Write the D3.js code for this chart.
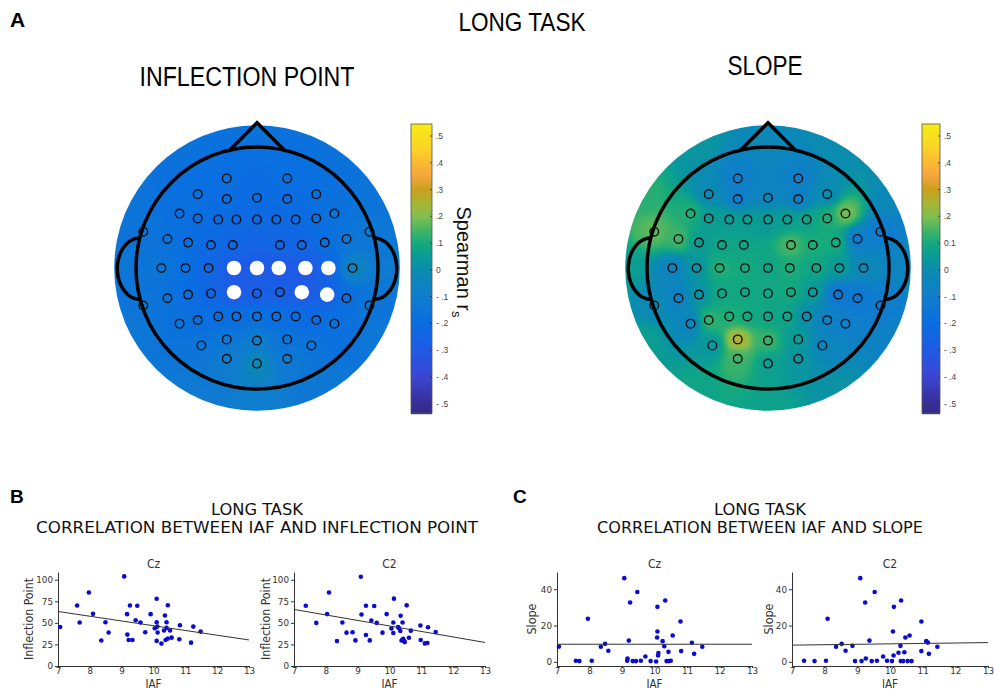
<!DOCTYPE html>
<html>
<head>
<meta charset="utf-8">
<script src="https://cdn.jsdelivr.net/npm/d3@7"></script>
<style>
  body { margin: 0; background: #fff; }
  text { font-family: "Liberation Sans", Arial, sans-serif; }
  .narrow { font-family: "Liberation Sans Narrow", "Arial Narrow", "Liberation Sans", sans-serif; }
  .dv { font-family: "DejaVu Sans Condensed", "DejaVu Sans", sans-serif; }
  .axis text { font-family: "DejaVu Sans", sans-serif; font-size: 8.8px; fill: #333; }
  .axis path, .axis line { stroke: #333; }
</style>
</head>
<body>
<script>
// ---------- topography data ----------
// channel layout in head-radius units (x to the right, y towards the back)
const chanNames = ['Fp1','Fp2','AF7','AF3','AFz','AF4','AF8','F7','F5','F3','F1','Fz','F2','F4','F6','F8',
  'FT9','FT10','FT7','FC5','FC3','FC1','FC2','FC4','FC6','FT8',
  'T7','C5','C3','C1','Cz','C2','C4','C6','T8',
  'TP7','CP5','CP3','CP1','CPz','CP2','CP4','CP6','TP8','TP9','TP10',
  'P7','P5','P3','P1','Pz','P2','P4','P6','P8','PO7','PO3','POz','PO4','PO8','O1','Oz','O2']
const chanX = [-0.25,0.25,-0.49,-0.25,0,0.25,0.49,-0.64,-0.49,-0.32,-0.17,0,0.16,0.32,0.49,0.64,
  -0.94,0.93,-0.74,-0.57,-0.38,-0.20,0.19,0.37,0.56,0.74,
  -0.79,-0.59,-0.40,-0.19,0,0.18,0.40,0.59,0.79,
  -0.74,-0.57,-0.38,-0.19,0,0.19,0.37,0.58,0.74,-0.94,0.93,
  -0.64,-0.49,-0.32,-0.17,0,0.16,0.32,0.49,0.64,-0.46,-0.25,0,0.25,0.45,-0.25,0,0.25]
const chanY = [-0.74,-0.74,-0.61,-0.57,-0.58,-0.57,-0.61,-0.45,-0.41,-0.40,-0.40,-0.40,-0.40,-0.40,-0.41,-0.45,
  -0.30,-0.30,-0.24,-0.21,-0.19,-0.19,-0.19,-0.19,-0.21,-0.24,
  0,0,0,0,0,0,0,0,0,
  0.25,0.22,0.21,0.20,0.21,0.20,0.20,0.22,0.25,0.31,0.31,
  0.46,0.43,0.40,0.40,0.40,0.40,0.40,0.43,0.46,0.64,0.59,0.60,0.59,0.64,0.75,0.79,0.75]

// Spearman r per channel: IAF vs inflection point
const rhoInflection = [-0.19,-0.19,-0.19,-0.21,-0.21,-0.21,-0.19,-0.19,-0.20,-0.21,-0.22,-0.23,-0.22,-0.22,-0.20,-0.17,
  -0.16,-0.14,-0.17,-0.20,-0.22,-0.24,-0.24,-0.24,-0.20,-0.15,
  -0.15,-0.19,-0.24,-0.31,-0.30,-0.31,-0.31,-0.26,-0.05,
  -0.17,-0.20,-0.24,-0.31,-0.28,-0.28,-0.31,-0.28,-0.19,-0.15,-0.15,
  -0.17,-0.19,-0.20,-0.20,-0.18,-0.20,-0.22,-0.21,-0.18,-0.16,-0.14,-0.10,-0.16,-0.16,-0.10,-0.03,-0.12]
// Spearman r per channel: IAF vs slope
const rhoSlope = [-0.09,-0.09,-0.02,-0.11,-0.06,-0.09,-0.02,0.12,0.05,0.06,0.06,0.05,0.06,0.08,0.11,0.20,
  0.17,-0.11,0.15,0.05,0.08,0.08,0.16,0.11,0.11,-0.11,
  -0.06,0.02,0.12,0.10,0.08,0.11,0.09,0.05,-0.03,
  -0.08,0.02,0.09,0.09,0.09,0.10,0.05,-0.15,-0.14,-0.02,-0.11,
  -0.06,0.14,0.11,0.09,0.08,0.08,0.00,-0.08,-0.09,0.03,0.27,0.14,0.05,-0.05,0.14,0.06,0.03]
// values on the rim of the map, clockwise from the nose
const rimInflection = [-0.17,-0.17,-0.16,-0.12,-0.14,-0.13,-0.10,-0.12,-0.14,-0.14,-0.16,-0.17]
const rimSlope = [-0.03,0.00,-0.03,-0.05,-0.07,0.02,0.07,0.08,0.06,0.06,0.12,0.03]
// significant channels
const sigInflection = ['C1','Cz','C2','C4','C6','CP1','CP4','CP6']
const sigSlope = []

const cbTicks = [0.5,0.4,0.3,0.2,0.1,0,-0.1,-0.2,-0.3,-0.4,-0.5]
const cbLabelsLeft = ['.5','.4','.3','.2','.1','0','- .1','- .2','- .3','- .4','- .5']
const cbLabelsRight = ['.5','.4','.3','.2','0.1','0','- .1','- .2','- .3','- .4','- .5']

// ---------- scatter data ----------
const iafIpCz = [7.07,7.60,7.68,7.97,8.10,8.36,8.49,8.59,9.08,9.17,9.18,9.22,9.26,9.34,9.44,9.49,9.59,9.74,9.91,10.04,
  10.10,10.10,10.12,10.13,10.10,10.25,10.33,10.36,10.38,10.41,10.41,10.45,10.45,10.52,10.57,10.83,10.81,11.18,11.25,11.48]
const ipCz = [45.3,70.2,50.4,85.3,60.5,29.5,50.8,38.8,103.9,60.1,36.4,30.2,70.2,30.2,53.1,69.8,50.4,39.1,60.1,43.8,
  50.8,77.9,45.7,38.8,29.1,26.0,41.1,58.5,30.2,50.8,44.2,70.5,31.8,41.1,32.9,47.3,31.0,27.1,45.7,39.9]
const iafIpC2 = [7.37,7.70,8.04,8.10,8.52,8.35,8.65,8.84,8.93,9.10,9.12,9.26,9.26,9.38,9.43,9.52,9.60,9.78,9.91,10.06,
  10.12,10.14,10.12,10.27,10.30,10.34,10.35,10.41,10.38,10.43,10.46,10.48,10.54,10.61,10.67,10.97,10.98,11.11,11.19,11.21,11.45]
const ipC2 = [69.9,50.0,60.2,85.2,50.4,28.9,38.7,39.1,29.7,103.5,59.8,35.9,69.9,29.7,52.7,69.5,50.0,38.7,60.2,43.4,
  50.4,78.1,38.3,45.3,43.8,40.6,58.2,50.4,29.7,31.6,28.9,27.7,70.3,32.8,41.0,46.9,30.1,26.2,26.6,44.9,39.5]
const iafSlCz = [7.06,7.58,7.69,7.95,8.07,8.35,8.48,8.58,9.07,9.16,9.17,9.21,9.25,9.33,9.43,9.47,9.58,9.72,9.88,10.05,
  10.08,10.09,10.09,10.12,10.11,10.25,10.30,10.33,10.37,10.44,10.50,10.43,10.56,10.80,10.82,11.15,11.22,11.47]
const slCz = [8.4,0.6,0.4,23.7,0.6,8.3,9.9,6.1,46.1,0.6,1.8,11.7,32.7,0.4,0.4,38.5,0.6,2.9,0.4,0.2,
  13.4,16.7,30.3,4.8,3.5,11.4,8.6,33.8,0.4,0.4,0.6,5.5,14.5,22.2,5.9,10.5,4.4,8.3]
const iafSlC2 = [7.37,7.69,8.04,8.09,8.35,8.52,8.64,8.85,8.93,9.09,9.13,9.26,9.24,9.37,9.44,9.53,9.60,9.79,9.91,10.06,
  10.09,10.12,10.11,10.26,10.32,10.34,10.33,10.40,10.44,10.47,10.54,10.60,10.66,10.96,10.96,11.11,11.16,11.19,11.45]
const slC2 = [0.6,0.4,0.6,23.7,8.3,9.9,6.1,8.8,0.4,46.1,0.4,1.8,32.7,11.7,0.4,38.5,0.6,2.9,0.6,0.4,
  16.7,30.3,3.5,5.0,8.8,33.8,0.4,0.4,5.3,13.4,0.4,14.5,0.4,22.2,5.9,11.4,10.6,4.4,8.3]
// fitted line values at IAF = 7 and IAF = 13
const fitIpCz = [63.2, 30.2]
const fitIpC2 = [65.6, 27.3]
const fitSlCz = [9.7, 9.7]
const fitSlC2 = [9.2, 10.6]

// ---------- drawing ----------
const width = 994, height = 691
const svg = d3.select('body').append('svg').attr('width', width).attr('height', height)

// colour map as it appears on the colour bars (parula-like)
const cmapVals = [-0.535,-0.5,-0.4,-0.3,-0.2,-0.1,0,0.05,0.1,0.15,0.2,0.25,0.3,0.35,0.4,0.45,0.545]
const cmapCols = ['#322888','#372d96','#3c46d2','#1e5ae6','#0a6ee1','#0f7dcd','#0a8caf','#0a9b96','#14aa7d',
  '#46b464','#82be50','#aab432','#c8a01e','#f5a53c','#fab932','#fad228','#f9ec14']
const cmin = -0.535, cmax = 0.545
const color = d3.scaleLinear().domain(cmapVals).range(cmapCols).clamp(true)

// headings
svg.append('text').attr('x', 10).attr('y', 27).attr('font-size', 21).attr('font-weight', 'bold').text('A')
svg.append('text').attr('class', 'narrow').attr('x', 522).attr('y', 31).attr('text-anchor', 'middle')
  .attr('font-size', 25).attr('textLength', 127).attr('lengthAdjust', 'spacingAndGlyphs').text('LONG TASK')
svg.append('text').attr('class', 'narrow').attr('x', 247).attr('y', 86).attr('text-anchor', 'middle')
  .attr('font-size', 27).attr('textLength', 215).attr('lengthAdjust', 'spacingAndGlyphs').text('INFLECTION POINT')
svg.append('text').attr('class', 'narrow').attr('x', 765).attr('y', 75).attr('text-anchor', 'middle')
  .attr('font-size', 27).attr('textLength', 75).attr('lengthAdjust', 'spacingAndGlyphs').text('SLOPE')

function topo(cx, cy, values, rim, sig) {
  const R = 121, outer = 1.18
  const hx = d3.scaleLinear().domain([-1, 1]).range([cx - R, cx + R])
  const hy = d3.scaleLinear().domain([-1, 1]).range([cy - R, cy + R])
  const pts = chanX.map((x, i) => ({x: x, y: chanY[i], v: values[i]}))
  rim.forEach((v, i) => {
    const a = i * Math.PI / 6
    pts.push({x: outer * Math.sin(a), y: -outer * Math.cos(a), v: v})
  })
  const size = Math.ceil(2 * outer * R) + 2
  const canvas = document.createElement('canvas')
  canvas.width = size; canvas.height = size
  const ctx = canvas.getContext('2d')
  const img = ctx.createImageData(size, size)
  for (let j = 0; j < size; j++) {
    for (let i = 0; i < size; i++) {
      const u = hx.invert(cx - size / 2 + i + 0.5), w = hy.invert(cy - size / 2 + j + 0.5)
      if (u * u + w * w > (outer + 0.02) * (outer + 0.02)) continue
      let num = 0, den = 0
      for (const p of pts) {
        const d2 = (p.x - u) ** 2 + (p.y - w) ** 2
        const wt = 1 / Math.pow(d2 + 0.006, 2)
        num += wt * p.v; den += wt
      }
      const c = d3.rgb(color(num / den))
      const k = 4 * (j * size + i)
      img.data[k] = c.r; img.data[k + 1] = c.g; img.data[k + 2] = c.b; img.data[k + 3] = 255
    }
  }
  ctx.putImageData(img, 0, 0)
  const g = svg.append('g')
  const clipId = 'clip' + cx
  g.append('clipPath').attr('id', clipId).append('circle').attr('cx', cx).attr('cy', cy).attr('r', outer * R)
  g.append('image').attr('x', cx - size / 2).attr('y', cy - size / 2).attr('width', size).attr('height', size)
    .attr('href', canvas.toDataURL()).attr('clip-path', `url(#${clipId})`)

  // ears, head, nose
  const line = d3.line().x(d => hx(d[0])).y(d => hy(d[1])).curve(d3.curveCatmullRom)
  const ear = d3.range(0, 181, 15).map(a => {
    const t = a * Math.PI / 180
    return [-0.965 - 0.19 * Math.sin(t), -0.255 * Math.cos(t) + 0.005]
  })
  g.append('path').attr('d', line(ear)).attr('fill', 'none').attr('stroke', '#000').attr('stroke-width', 3.5)
  g.append('path').attr('d', line(ear.map(d => [-d[0], d[1]]))).attr('fill', 'none').attr('stroke', '#000').attr('stroke-width', 3.5)
  g.append('circle').attr('cx', cx).attr('cy', cy).attr('r', R).attr('fill', 'none').attr('stroke', '#000').attr('stroke-width', 3.5)
  g.append('path').attr('d', d3.line().x(d => hx(d[0])).y(d => hy(d[1]))([[-0.235,-0.965],[0,-1.2],[0.235,-0.965]]))
    .attr('fill', 'none').attr('stroke', '#000').attr('stroke-width', 3.5).attr('stroke-linejoin', 'miter')

  g.selectAll('.el').data(chanNames).enter().append('circle')
    .attr('cx', (d, i) => hx(chanX[i])).attr('cy', (d, i) => hy(chanY[i]))
    .attr('r', d => sig.includes(d) ? 7.3 : 4.3)
    .attr('fill', d => sig.includes(d) ? '#fff' : 'none')
    .attr('stroke', d => sig.includes(d) ? 'none' : '#111')
    .attr('stroke-width', 1.4)
}

function colorbar(x0, w, labels, withTitle) {
  const y = d3.scaleLinear().domain([cmin, cmax]).range([413, 124])
  const g = svg.append('g')
  const steps = d3.range(0, 290)
  g.selectAll('rect.cb').data(steps).enter().append('rect')
    .attr('x', x0).attr('width', w)
    .attr('y', d => 124 + d).attr('height', 1.2)
    .attr('fill', d => color(y.invert(124 + d + 0.5)))
  g.append('rect').attr('x', x0).attr('y', 124).attr('width', w).attr('height', 289)
    .attr('fill', 'none').attr('stroke', '#555').attr('stroke-width', 0.8)
  g.selectAll('line.tk').data(cbTicks).enter().append('line')
    .attr('x1', x0 + w - 2).attr('x2', x0 + w).attr('y1', d => y(d)).attr('y2', d => y(d))
    .attr('stroke', '#333').attr('stroke-width', 0.8)
  g.selectAll('text.tl').data(cbTicks).enter().append('text')
    .attr('x', x0 + w + 4).attr('y', d => y(d) + 3)
    .attr('font-size', 8.5).attr('fill', '#444').text((d, i) => labels[i])
  if (withTitle) {
    const t = g.append('text').attr('transform', 'translate(457,262) rotate(90)')
      .attr('text-anchor', 'middle').attr('font-size', 20).attr('fill', '#111')
    t.append('tspan').text('Spearman r')
    t.append('tspan').attr('font-size', 13).attr('dy', 5).text('s')
  }
}

topo(257, 268, rhoInflection, rimInflection, sigInflection)
topo(768, 268, rhoSlope, rimSlope, sigSlope)
colorbar(411, 21, cbLabelsLeft, true)
colorbar(922, 18, cbLabelsRight, false)

// panel B / C headings
svg.append('text').attr('x', 10).attr('y', 503).attr('font-size', 19).attr('font-weight', 'bold').text('B')
svg.append('text').attr('x', 513).attr('y', 503).attr('font-size', 19).attr('font-weight', 'bold').text('C')
const subHead = [
  {x: 257, y: 515, t: 'LONG TASK', w: 92},
  {x: 257, y: 533, t: 'CORRELATION BETWEEN IAF AND INFLECTION POINT', w: 442},
  {x: 760, y: 515, t: 'LONG TASK', w: 92},
  {x: 760, y: 533, t: 'CORRELATION BETWEEN IAF AND SLOPE', w: 326}
]
subHead.forEach(h => {
  svg.append('text').attr('class', 'dv').attr('x', h.x).attr('y', h.y).attr('text-anchor', 'middle')
    .attr('font-size', 15).attr('textLength', h.w).attr('lengthAdjust', 'spacingAndGlyphs').attr('fill', '#111').text(h.t)
})

function scatter(opt) {
  const x = d3.scaleLinear().domain([7, 13]).range([opt.left, opt.right])
  const y = d3.scaleLinear().domain(opt.ydom).range([opt.bottom, 572])
  const g = svg.append('g')
  g.append('g').attr('class', 'axis').attr('transform', `translate(0,${opt.bottom})`)
    .call(d3.axisBottom(x).ticks(6).tickFormat(d3.format('d')).tickSize(2).tickSizeOuter(0).tickPadding(0))
  g.append('g').attr('class', 'axis').attr('transform', `translate(${opt.left},0)`)
    .call(d3.axisLeft(y).tickValues(opt.yticks).tickSize(3).tickSizeOuter(0).tickPadding(2))
  g.selectAll('circle').data(opt.xs).enter().append('circle')
    .attr('cx', d => x(d)).attr('cy', (d, i) => y(opt.ys[i])).attr('r', 2.3).attr('fill', '#0a0ad0')
  g.append('line').attr('x1', x(7)).attr('x2', x(13)).attr('y1', y(opt.fit[0])).attr('y2', y(opt.fit[1]))
    .attr('stroke', '#333').attr('stroke-width', 1)
  const mid = (opt.left + opt.right) / 2
  g.append('text').attr('class', 'dv').attr('x', mid).attr('y', 568).attr('text-anchor', 'middle')
    .attr('font-size', 12).attr('fill', '#333').text(opt.title)
  g.append('text').attr('class', 'dv').attr('x', mid).attr('y', 688).attr('text-anchor', 'middle')
    .attr('font-size', 11.5).attr('fill', '#333').text('IAF')
  g.append('text').attr('class', 'dv').attr('transform', `translate(${opt.ylx},619) rotate(-90)`)
    .attr('text-anchor', 'middle').attr('font-size', 12).attr('textLength', opt.ylen)
    .attr('lengthAdjust', 'spacingAndGlyphs').attr('fill', '#333').text(opt.ylabel)
}

scatter({left: 58, right: 249, bottom: 666, ydom: [0, 109], yticks: [0,25,50,75,100], xs: iafIpCz, ys: ipCz,
  fit: fitIpCz, title: 'Cz', ylabel: 'Inflection Point', ylx: 33, ylen: 82})
scatter({left: 294, right: 485, bottom: 666, ydom: [0, 109], yticks: [0,25,50,75,100], xs: iafIpC2, ys: ipC2,
  fit: fitIpC2, title: 'C2', ylabel: 'Inflection Point', ylx: 270, ylen: 82})
scatter({left: 557, right: 752, bottom: 666, ydom: [-2.3, 49.5], yticks: [0,20,40], xs: iafSlCz, ys: slCz,
  fit: fitSlCz, title: 'Cz', ylabel: 'Slope', ylx: 536, ylen: 31})
scatter({left: 792, right: 988, bottom: 666, ydom: [-2.3, 49.5], yticks: [0,20,40], xs: iafSlC2, ys: slC2,
  fit: fitSlC2, title: 'C2', ylabel: 'Slope', ylx: 773, ylen: 31})
</script>
</body>
</html>
